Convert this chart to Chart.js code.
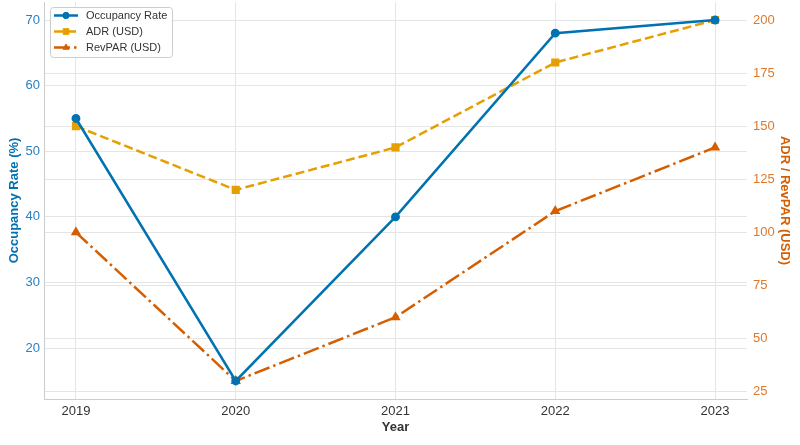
<!DOCTYPE html>
<html>
<head>
<meta charset="utf-8">
<script src="https://cdn.jsdelivr.net/npm/chart.js@4.4.1/dist/chart.umd.min.js"></script>
<style>
html,body{margin:0;padding:0;background:#fff;}
#wrap{width:800px;height:445px;position:relative;}
</style>
</head>
<body>
<div id="wrap"><canvas id="c" width="800" height="445"></canvas></div>
<script>
const years = [2019, 2020, 2021, 2022, 2023];
const occupancyRate = [55, 15, 40, 68, 70];
const adrUSD = [150, 120, 140, 180, 200];
const revparUSD = [100, 30, 60, 110, 140];
const leftTicks = [20, 30, 40, 50, 60, 70];
const rightTicks = [25, 50, 75, 100, 125, 150, 175, 200];

const FONT = "'Liberation Sans', Arial, sans-serif";
const pts = arr => arr.map((v, i) => ({x: years[i], y: v}));
const noPad = s => { s.paddingTop = 0; s.paddingBottom = 0; s.paddingLeft = 0; s.paddingRight = 0; };

const legendPlugin = {
  id: 'insideLegend',
  afterDraw(chart) {
    const ctx = chart.ctx;
    const x0 = 50.5, y0 = 7.5, w = 122, h = 50;
    ctx.save();
    ctx.beginPath();
    if (ctx.roundRect) ctx.roundRect(x0, y0, w, h, 3); else ctx.rect(x0, y0, w, h);
    ctx.fillStyle = 'rgba(255,255,255,0.85)';
    ctx.fill();
    ctx.strokeStyle = '#cccccc';
    ctx.lineWidth = 1;
    ctx.stroke();
    chart.data.datasets.forEach((ds, i) => {
      const y = 15.5 + i * 16;
      ctx.save();
      ctx.strokeStyle = ds.borderColor;
      ctx.lineWidth = ds.borderWidth;
      ctx.setLineDash(ds.borderDash || []);
      ctx.beginPath();
      ctx.moveTo(54, y);
      ctx.lineTo(78, y);
      ctx.stroke();
      ctx.restore();
      ctx.save();
      ctx.fillStyle = ds.pointBackgroundColor;
      ctx.strokeStyle = ds.pointBorderColor;
      Chart.helpers.drawPoint(ctx, {pointStyle: ds.pointStyle, radius: ds.pointRadius, borderWidth: 1, rotation: 0}, 66, y);
      ctx.restore();
      ctx.fillStyle = '#333333';
      ctx.font = "11px " + FONT;
      ctx.textBaseline = 'middle';
      ctx.textAlign = 'left';
      ctx.fillText(ds.label, 86, y + 0.5);
    });
    ctx.restore();
  }
};

new Chart(document.getElementById('c'), {
  type: 'line',
  data: {
    datasets: [
      {
        label: 'Occupancy Rate',
        data: pts(occupancyRate),
        yAxisID: 'y',
        borderColor: '#0072B2',
        backgroundColor: '#0072B2',
        pointBackgroundColor: '#0072B2',
        pointBorderColor: '#0072B2',
        borderWidth: 2.5,
        pointStyle: 'circle',
        pointRadius: 3.2,
        borderCapStyle: 'round',
        fill: false,
        tension: 0
      },
      {
        label: 'ADR (USD)',
        data: pts(adrUSD),
        yAxisID: 'y2',
        borderColor: '#E69F00',
        backgroundColor: '#E69F00',
        pointBackgroundColor: '#E69F00',
        pointBorderColor: '#E69F00',
        borderWidth: 2.5,
        borderDash: [9, 4],
        pointStyle: 'rect',
        pointRadius: 4,
        fill: false,
        tension: 0
      },
      {
        label: 'RevPAR (USD)',
        data: pts(revparUSD),
        yAxisID: 'y2',
        borderColor: '#D55E00',
        backgroundColor: '#D55E00',
        pointBackgroundColor: '#D55E00',
        pointBorderColor: '#D55E00',
        borderWidth: 2.5,
        borderDash: [16, 4, 2.5, 4],
        pointStyle: 'triangle',
        pointRadius: 3.5,
        fill: false,
        tension: 0
      }
    ]
  },
  options: {
    responsive: false,
    animation: false,
    devicePixelRatio: 1,
    layout: {autoPadding: false, padding: {top: 2, left: 0, right: 0, bottom: 0}},
    plugins: {legend: {display: false}, tooltip: {enabled: false}},
    scales: {
      x: {
        type: 'linear',
        min: 2018.8,
        max: 2023.2,
        afterBuildTicks: s => { s.ticks = years.map(v => ({value: v})); },
        afterFit: s => { s.height = 46; noPad(s); },
        ticks: {
          color: '#333333',
          font: {family: FONT, size: 13},
          padding: 5,
          callback: v => String(v),
          maxRotation: 0
        },
        grid: {color: '#e5e5e5', lineWidth: 1, drawTicks: false},
        border: {color: '#cccccc', width: 1},
        title: {
          display: true, text: 'Year', color: '#333333',
          font: {family: FONT, size: 13, weight: 'bold'},
          padding: {top: 2, bottom: 10}
        }
      },
      y: {
        position: 'left',
        min: 12.25,
        max: 72.75,
        afterBuildTicks: s => { s.ticks = leftTicks.map(v => ({value: v})); },
        afterFit: s => { s.width = 44; noPad(s); },
        ticks: {color: '#2a80c2', font: {family: FONT, size: 13}, padding: 4},
        grid: {color: '#e5e5e5', lineWidth: 1, drawTicks: false},
        border: {color: '#cccccc', width: 1},
        title: {
          display: true, text: 'Occupancy Rate (%)', color: '#0072B2',
          font: {family: FONT, size: 13, weight: 'bold'},
          padding: {top: 7, bottom: 4}
        }
      },
      y2: {
        position: 'right',
        min: 21.5,
        max: 208.5,
        afterBuildTicks: s => { s.ticks = rightTicks.map(v => ({value: v})); },
        afterFit: s => { s.width = 53; noPad(s); },
        ticks: {color: '#e0782c', font: {family: FONT, size: 13}, padding: 6},
        grid: {color: '#e5e5e5', lineWidth: 1, drawTicks: false},
        border: {display: false},
        title: {
          display: true, text: 'ADR / RevPAR (USD)', color: '#D55E00',
          font: {family: FONT, size: 13, weight: 'bold'},
          padding: {top: 8, bottom: 4}
        }
      }
    }
  },
  plugins: [legendPlugin]
});
</script>
</body>
</html>
